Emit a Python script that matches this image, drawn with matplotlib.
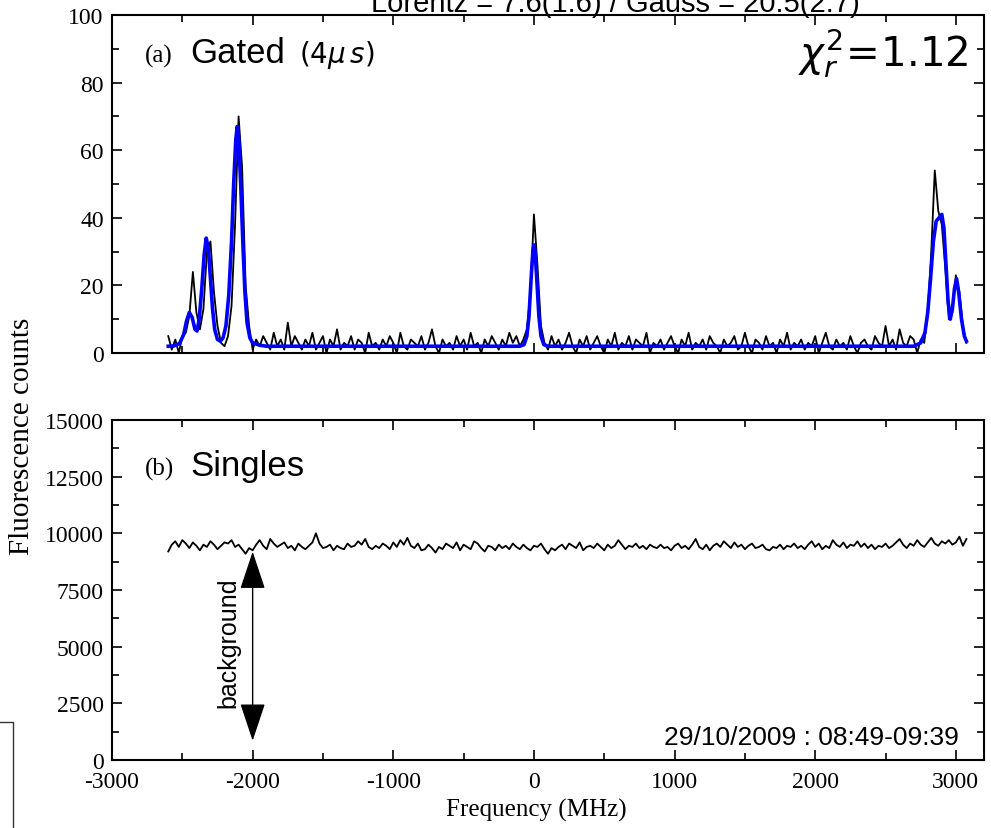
import matplotlib
matplotlib.use('Agg')
import matplotlib.pyplot as plt
from matplotlib.ticker import MultipleLocator
from matplotlib.lines import Line2D
import numpy as np


""" Data read from the picture """
# gated spectrum, 25 MHz channels starting at -2600 MHz
chanStart = -2600
chanStep = 25
gatedCounts = [
    5, 1, 4, 0, 5, 6, 11, 24, 12, 7, 13, 30, 33, 18, 8, 3, 2, 5, 14, 38,
    70, 55, 20, 8, 1, 4, 2, 5, 3, 1, 6, 2, 4, 1, 9, 2, 5, 3, 1, 4,
    2, 6, 1, 3, 5, 0, 4, 2, 7, 1, 3, 2, 5, 1, 4, 3, 0, 6, 2, 3,
    1, 4, 2, 5, 3, 0, 6, 2, 1, 4, 3, 2, 5, 1, 3, 7, 2, 0, 4, 2,
    3, 1, 5, 2, 4, 1, 6, 2, 3, 0, 4, 2, 5, 3, 1, 4, 2, 6, 3, 5,
    2, 4, 7, 18, 41, 26, 8, 3, 1, 5, 2, 4, 1, 3, 6, 2, 0, 4, 2, 5,
    1, 3, 5, 2, 0, 4, 2, 6, 1, 3, 2, 5, 1, 4, 3, 2, 6, 0, 3, 2,
    4, 1, 3, 5, 2, 0, 4, 2, 6, 1, 3, 2, 4, 1, 5, 3, 2, 0, 4, 2,
    3, 5, 1, 2, 6, 2, 0, 4, 3, 1, 5, 2, 3, 0, 4, 2, 6, 1, 3, 2,
    4, 1, 3, 2, 5, 0, 3, 6, 2, 1, 4, 2, 3, 1, 5, 2, 0, 3, 4, 2,
    1, 5, 3, 2, 8, 2, 4, 1, 7, 3, 2, 5, 4, 0, 4, 3, 12, 30, 54, 42,
    38, 25, 10, 12, 23, 18, 8, 3,
]

# singles spectrum, same channels
singlesCounts = [
    9200, 9500, 9650, 9400, 9700, 9550, 9350, 9600, 9450, 9250, 9500, 9400, 9650, 9500, 9300, 9450, 9600, 9550, 9700, 9400,
    9500, 9300, 9100, 9350, 9250, 9500, 9700, 9450, 9300, 9750, 9550, 9400, 9500, 9600, 9350, 9450, 9250, 9550, 9400, 9300,
    9450, 9600, 10000, 9550, 9350, 9400, 9500, 9250, 9450, 9350, 9300, 9550, 9400, 9450, 9650, 9500, 9750, 9400, 9300, 9450,
    9350, 9550, 9450, 9300, 9600, 9400, 9700, 9500, 9800, 9450, 9350, 9550, 9250, 9300, 9500, 9350, 9150, 9400, 9300, 9550,
    9450, 9350, 9600, 9250, 9500, 9400, 9300, 9650, 9550, 9350, 9200, 9450, 9400, 9250, 9500, 9350, 9450, 9300, 9550, 9400,
    9300, 9500, 9350, 9250, 9450, 9400, 9550, 9300, 9100, 9350, 9250, 9400, 9500, 9300, 9550, 9450, 9350, 9600, 9250, 9400,
    9450, 9350, 9550, 9400, 9250, 9500, 9350, 9450, 9700, 9500, 9300, 9450, 9400, 9550, 9350, 9450, 9300, 9500, 9400, 9350,
    9500, 9350, 9400, 9250, 9450, 9550, 9350, 9450, 9300, 9500, 9750, 9400, 9300, 9500, 9250, 9450, 9550, 9400, 9650, 9500,
    9350, 9600, 9400, 9500, 9300, 9450, 9550, 9350, 9400, 9500, 9300, 9250, 9400, 9350, 9500, 9300, 9450, 9400, 9550, 9350,
    9450, 9300, 9500, 9650, 9400, 9550, 9300, 9450, 9350, 9700, 9500, 9400, 9600, 9350, 9500, 9450, 9650, 9400, 9550, 9350,
    9500, 9300, 9450, 9400, 9550, 9350, 9450, 9600, 9750, 9500, 9350, 9550, 9450, 9700, 9500, 9400, 9600, 9800, 9550, 9450,
    9650, 9550, 9700, 9500, 9600, 9850, 9450, 9750,
]

# fitted curve (blue), read point by point
fitFreq = [-2600, -2560, -2520, -2490, -2470, -2450, -2430, -2410, -2395, -2380,
           -2360, -2345, -2330, -2315, -2300, -2285, -2270, -2250, -2230, -2210,
           -2190, -2170, -2150, -2135, -2120, -2110, -2100, -2085, -2070, -2055,
           -2040, -2020, -2000, -1950, -1900, -100, -70, -50, -35, -20,
           -8, 0, 8, 20, 35, 50, 70, 100, 2700, 2750,
           2780, 2800, 2820, 2840, 2860, 2880, 2900, 2915, 2930, 2945,
           2960, 2975, 2990, 3005, 3020, 3040, 3060, 3075]
fitCounts = [2.0, 2.1, 2.8, 5.5, 9.5, 12.0, 10.5, 7.0, 6.5, 10.0,
             20.0, 29.0, 34.0, 31.0, 22.0, 13.0, 7.0, 4.0, 3.5, 4.5,
             8.0, 17.0, 33.0, 50.0, 63.0, 67.0, 64.0, 50.0, 33.0, 18.0,
             9.0, 4.5, 3.0, 2.3, 2.0, 2.0, 2.5, 5.0, 11.0, 22.0,
             30.0, 32.0, 30.0, 22.0, 11.0, 5.0, 2.5, 2.0, 2.0, 3.0,
             6.0, 12.0, 22.0, 33.0, 39.0, 40.0, 41.0, 37.0, 26.0, 15.0,
             10.0, 13.0, 19.0, 22.0, 18.0, 10.0, 5.0, 3.5]

bgFrequency = -2000
bgTop = 9190
bgBottom = 850


""" Figure """
plt.rcParams['axes.unicode_minus'] = False

W, H = 991, 829
fig = plt.figure(figsize=(W / 100, H / 100), dpi=100)

def px(x, y):
    return x / W, 1 - y / H

SERIF = 'Liberation Serif'
SANS = 'Liberation Sans'

left, right = 112, 984
ax1 = fig.add_axes([left / W, 1 - 354 / H, (right - left) / W, (354 - 16) / H])
ax2 = fig.add_axes([left / W, 1 - 761 / H, (right - left) / W, (761 - 421) / H])

freq = chanStart + chanStep * np.arange(len(gatedCounts))

ax1.plot(freq, gatedCounts, color='black', lw=1.3)
ax1.plot(fitFreq, fitCounts, color='#0000ff', lw=2.6)
ax2.plot(freq, singlesCounts, color='black', lw=1.3)

ax1.set_ylim(0, 100)
ax2.set_ylim(0, 15000)
for ax in (ax1, ax2):
    ax.set_xlim(-3000, 3200)
    ax.xaxis.set_major_locator(MultipleLocator(1000))
    ax.xaxis.set_minor_locator(MultipleLocator(500))
    ax.tick_params(which='both', direction='in', top=True, right=True,
                   width=1.2, labelsize=17, pad=6)
    ax.tick_params(which='major', length=7)
    ax.tick_params(which='minor', length=5)
    for s in ax.spines.values():
        s.set_linewidth(1.5)
    for lab in ax.get_xticklabels() + ax.get_yticklabels():
        lab.set_fontfamily(SERIF)

ax1.yaxis.set_major_locator(MultipleLocator(20))
ax1.yaxis.set_minor_locator(MultipleLocator(10))
ax1.tick_params(labelbottom=False)
ax2.yaxis.set_major_locator(MultipleLocator(2500))
ax2.yaxis.set_minor_locator(MultipleLocator(1250))
ax2.tick_params(axis='x', pad=8)

# axis titles
fig.text(*px(22, 436), 'Fluorescence counts', rotation=90, ha='center', va='center',
         family=SERIF, fontsize=21)
fig.text(*px(536, 810), 'Frequency (MHz)', ha='center', va='center',
         family=SERIF, fontsize=18)

# panel labels
fig.text(*px(145, 63), '(a)', family=SERIF, fontsize=18, va='baseline')
fig.text(*px(190, 63), 'Gated', family=SANS, fontsize=25, va='baseline')
fig.text(*px(299, 63), r'$(4\mu\,s)$', fontsize=20, va='baseline')
fig.text(*px(145, 476), '(b)', family=SERIF, fontsize=18, va='baseline')
fig.text(*px(190, 476), 'Singles', family=SANS, fontsize=25, va='baseline')

fig.text(*px(968, 54), r'$\chi^2_r\!=\!$1.12', ha='right', va='center', fontsize=29)
fig.text(*px(615, 12), 'Lorentz = 7.6(1.6) / Gauss = 20.5(2.7)', ha='center',
         va='baseline', family=SANS, fontsize=21)

fig.text(*px(959, 745), '29/10/2009 : 08:49-09:39', ha='right', va='baseline',
         family=SANS, fontsize=19)

# background arrow
ax2.annotate('', xy=(bgFrequency, bgBottom), xytext=(bgFrequency, bgTop),
             arrowprops=dict(arrowstyle='<|-|>,head_length=1.2,head_width=0.4',
                             color='black', lw=1.0, mutation_scale=20,
                             shrinkA=0, shrinkB=0))
fig.text(*px(228, 643), 'background', rotation=90, ha='center', va='center',
         family=SANS, fontsize=18)

# stray frame fragment at the lower left
fig.add_artist(Line2D([0, 13 / W, 13 / W], [1 - 723 / H, 1 - 723 / H, 0],
                      transform=fig.transFigure, color='#333333', lw=1.0))

fig.savefig('out.png', dpi=100)
